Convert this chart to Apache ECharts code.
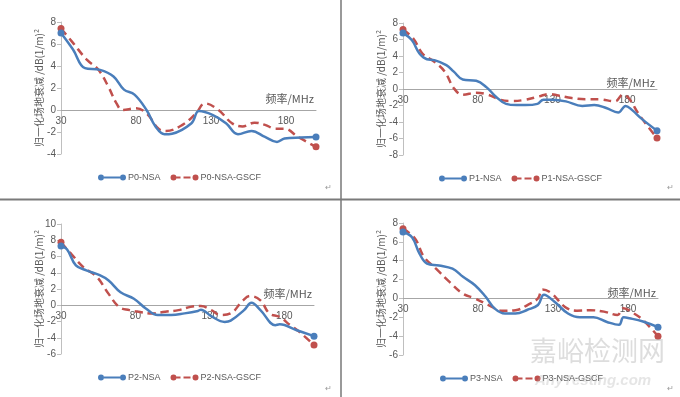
<!DOCTYPE html>
<html>
<head>
<meta charset="utf-8">
<script src="https://cdn.jsdelivr.net/npm/echarts@6/dist/echarts.min.js"></script>
<style>
html, body { margin: 0; padding: 0; background: #fff; }
#chart { width: 680px; height: 397px; }
</style>
</head>
<body>
<div id="chart"></div>
<script>
// frequencies (MHz) and normalised site attenuation
const freqP0Nsa = [30, 38, 46, 56, 65, 72, 79, 87, 93, 99, 104, 117, 122, 131, 140, 148, 157, 166, 174, 179, 190, 200];
const p0Nsa = [7.0, 5.5, 3.8, 3.65, 3.05, 1.85, 1.4, 0, -1.5, -2.2, -2.15, -1.2, -0.1, -0.45, -1.2, -2.2, -1.9, -2.45, -2.9, -2.6, -2.5, -2.45];
const freqP0Gscf = [30, 38, 47, 55, 62, 67, 71, 80, 87, 95, 100, 111, 120, 126, 135, 144, 151, 159, 166, 173, 179, 188, 200];
const p0Gscf = [7.4, 6.1, 4.6, 3.65, 2.0, 0.6, 0, 0.15, -0.3, -1.7, -1.9, -1.35, -0.3, 0.6, 0, -1.2, -1.5, -1.15, -1.35, -1.7, -1.7, -2.45, -3.35];

const freqP1Nsa = [30, 36, 41, 46, 51, 59, 64, 70, 79, 86, 92, 99, 106, 112, 120, 124, 130, 139, 150, 158, 166, 174, 179, 183, 190, 200];
const p1Nsa = [6.8, 5.9, 4.3, 3.6, 3.5, 2.9, 2.1, 1.15, 1.0, 0.2, -0.9, -1.8, -1.95, -1.95, -1.8, -1.3, -1.3, -1.5, -2.05, -1.95, -2.3, -2.85, -2.05, -2.5, -3.65, -5.05];
const freqP1Gscf = [30, 37, 43, 51, 58, 64, 70, 79, 87, 95, 103, 112, 121, 128, 134, 143, 152, 161, 172, 177, 181, 188, 200];
const p1Gscf = [7.2, 6.1, 4.3, 3.3, 2.1, 0.1, -0.7, -0.45, -0.7, -1.3, -1.45, -1.3, -0.9, -0.6, -0.8, -1.1, -1.25, -1.25, -1.5, -0.7, -1.1, -3.1, -5.95];

const freqP2Nsa = [30, 34, 40, 47, 56, 62, 70, 79, 87, 95, 104, 113, 122, 124, 131, 140, 144, 153, 158, 164, 174, 177, 188, 200];
const p2Nsa = [7.3, 6.9, 4.9, 4.3, 3.7, 3.05, 1.6, 0.8, -0.4, -1.2, -1.2, -1.0, -0.7, -0.55, -1.35, -2.05, -1.9, -0.6, 0.3, -0.6, -2.45, -2.35, -3.05, -3.8];
const freqP2Gscf = [30, 37, 45, 54, 62, 69, 76, 82, 91, 100, 109, 117, 124, 131, 137, 144, 152, 157, 164, 170, 177, 184, 190, 200];
const p2Gscf = [7.75, 6.3, 4.7, 3.5, 1.4, -0.2, -0.6, -0.8, -1.0, -0.8, -0.6, -0.2, -0.1, -0.6, -1.2, -1.0, 0.55, 1.15, 0.6, -1.0, -1.45, -2.45, -3.25, -4.9];

const freqP3Nsa = [30, 36, 41, 46, 54, 63, 70, 78, 85, 91, 98, 105, 113, 120, 124, 131, 140, 148, 157, 166, 174, 177, 181, 190, 200];
const p3Nsa = [7.05, 6.5, 4.75, 3.7, 3.5, 3.15, 2.3, 1.4, 0.2, -1.05, -1.6, -1.6, -1.2, -0.7, 0.4, -0.35, -1.6, -2.0, -2.0, -2.5, -2.8, -2.0, -2.1, -2.45, -3.05];
const freqP3Gscf = [30, 38, 44, 52, 61, 70, 78, 87, 96, 105, 113, 120, 123, 129, 138, 146, 155, 164, 173, 177, 184, 190, 200];
const p3Gscf = [7.4, 6.35, 4.4, 3.15, 1.75, 0.5, 0, -0.7, -1.3, -1.25, -0.7, 0, 0.95, 0.55, -0.9, -1.3, -1.25, -1.4, -1.75, -1.05, -1.6, -2.3, -4.0];

const panelNames = ['P0', 'P1', 'P2', 'P3'];
const yMins = [-4, -8, -6, -6];
const yMaxs = [8, 8, 10, 8];
const xTickLabels = [30, 80, 130, 180];
const xName = '频率/MHz';
const yName = '归一化场地衰减 /dB(1/m)²';

const nsaData = [[freqP0Nsa, p0Nsa], [freqP1Nsa, p1Nsa], [freqP2Nsa, p2Nsa], [freqP3Nsa, p3Nsa]];
const gscfData = [[freqP0Gscf, p0Gscf], [freqP1Gscf, p1Gscf], [freqP2Gscf, p2Gscf], [freqP3Gscf, p3Gscf]];

// layout of the 2x2 table cells
const grids = [
    { left: 61, top: 22, width: 255, height: 132 },
    { left: 403, top: 23, width: 254, height: 132 },
    { left: 61, top: 224, width: 253, height: 130 },
    { left: 403, top: 223, width: 255, height: 132 }
];
const legendPos = [
    { left: 98, top: 173 },
    { left: 439, top: 174 },
    { left: 98, top: 373 },
    { left: 440, top: 374 }
];
const xNamePad = [6, 1, 6, 0];

const BLUE = '#4A7EBB';
const RED = '#C0504D';
const TEXT = '#595959';
const NUM_FONT = '"Liberation Sans Narrow", "Liberation Sans", Arial, sans-serif';
const CJK_FONT = '"Noto Sans CJK SC", sans-serif';

const blueIcon = 'path://M0,3a3,3 0 1,0 6,0a3,3 0 1,0 -6,0zM6,2h16v2h-16zM22,3a3,3 0 1,0 6,0a3,3 0 1,0 -6,0z';
const redIcon = 'path://M0,3a3,3 0 1,0 6,0a3,3 0 1,0 -6,0zM6,2h4v2h-4zM13,2h7v2h-7zM22,3a3,3 0 1,0 6,0a3,3 0 1,0 -6,0z';

function points(pair) {
    const xs = pair[0], ys = pair[1];
    return xs.map(function (f, i) {
        const end = i === 0 || i === xs.length - 1;
        return { value: [f, ys[i]], symbol: end ? 'circle' : 'none' };
    });
}

const option = {
    animation: false,
    grid: [],
    xAxis: [],
    yAxis: [],
    legend: [],
    series: [],
    graphic: []
};

for (let i = 0; i < 4; i++) {
    option.grid.push(grids[i]);
    // lift the whole x axis (line, labels, name) up to the y = 0 level
    const zeroLift = grids[i].height * (0 - yMins[i]) / (yMaxs[i] - yMins[i]);
    option.xAxis.push({
        gridIndex: i,
        type: 'value',
        min: 30,
        max: 200,
        interval: 50,
        offset: -zeroLift,
        name: xName,
        nameLocation: 'end',
        nameGap: -2,
        nameTextStyle: {
            color: TEXT, fontSize: 11, fontFamily: CJK_FONT,
            align: 'right', verticalAlign: 'bottom', padding: [0, 0, xNamePad[i], 0]
        },
        axisLine: { onZero: false, lineStyle: { color: '#A6A6A6', width: 1 } },
        axisTick: { show: false },
        splitLine: { show: false },
        axisLabel: {
            color: TEXT, fontSize: 10, fontFamily: NUM_FONT, margin: 6,
            showMaxLabel: false,
            formatter: function (v) { return xTickLabels.indexOf(v) >= 0 ? String(v) : ''; }
        }
    });
    option.yAxis.push({
        gridIndex: i,
        type: 'value',
        min: yMins[i],
        max: yMaxs[i],
        interval: 2,
        name: yName,
        nameLocation: 'middle',
        nameGap: 17,
        nameMoveOverlap: false,
        nameRotate: 90,
        nameTextStyle: { color: TEXT, fontSize: 10, fontFamily: CJK_FONT },
        axisLine: { show: true, lineStyle: { color: '#BFBFBF', width: 1 } },
        axisTick: { show: true, length: 4, inside: false, lineStyle: { color: '#BFBFBF' } },
        splitLine: { show: false },
        axisLabel: { color: TEXT, fontSize: 10, fontFamily: NUM_FONT, margin: 5 }
    });
    const nsaName = panelNames[i] + '-NSA';
    const gscfName = panelNames[i] + '-NSA-GSCF';
    option.series.push({
        name: nsaName,
        type: 'line',
        xAxisIndex: i,
        yAxisIndex: i,
        smooth: 0.4,
        symbol: 'none',
        symbolSize: 7,
        data: points(nsaData[i]),
        itemStyle: { color: BLUE, borderWidth: 0 },
        lineStyle: { color: BLUE, width: 2.5 },
        z: 3
    });
    option.series.push({
        name: gscfName,
        type: 'line',
        xAxisIndex: i,
        yAxisIndex: i,
        smooth: 0.4,
        symbol: 'none',
        symbolSize: 7,
        data: points(gscfData[i]),
        itemStyle: { color: RED, borderWidth: 0 },
        lineStyle: { color: RED, width: 2.5, type: [8, 5] },
        z: 2
    });
    option.legend.push({
        left: legendPos[i].left,
        top: legendPos[i].top,
        padding: 0,
        itemWidth: 28,
        itemHeight: 6,
        itemGap: 10,
        itemStyle: { borderWidth: 0 },
        textStyle: { color: TEXT, fontSize: 9, fontFamily: NUM_FONT, padding: [0, 0, 0, -3] },
        data: [
            { name: nsaName, icon: blueIcon },
            { name: gscfName, icon: redIcon }
        ]
    });
}

// table borders, paragraph marks and the watermark
option.graphic = [
    { type: 'line', shape: { x1: 341, y1: 0, x2: 341, y2: 397 }, style: { stroke: '#555', lineWidth: 1.2 } },
    { type: 'line', shape: { x1: 0, y1: 199.5, x2: 680, y2: 199.5 }, style: { stroke: '#7a7a7a', lineWidth: 2 } },
    { type: 'text', left: 325, top: 184, style: { text: '↵', fill: '#999', fontSize: 8 } },
    { type: 'text', left: 667, top: 184, style: { text: '↵', fill: '#999', fontSize: 8 } },
    { type: 'text', left: 325, top: 385, style: { text: '↵', fill: '#999', fontSize: 8 } },
    { type: 'text', left: 667, top: 385, style: { text: '↵', fill: '#999', fontSize: 8 } },
    {
        type: 'text', left: 530, top: 337, z: 100,
        style: { text: '嘉峪检测网', fill: 'rgba(170,170,170,0.4)', fontSize: 27, fontFamily: CJK_FONT }
    },
    {
        type: 'text', left: 535, top: 373, z: 100,
        style: { text: 'AnyTesting.com', fill: 'rgba(170,170,170,0.3)', fontSize: 15, fontStyle: 'italic', fontWeight: 'bold', fontFamily: '"Liberation Sans", sans-serif' }
    }
];

const chart = echarts.init(document.getElementById('chart'));
chart.setOption(option);
</script>
</body>
</html>
